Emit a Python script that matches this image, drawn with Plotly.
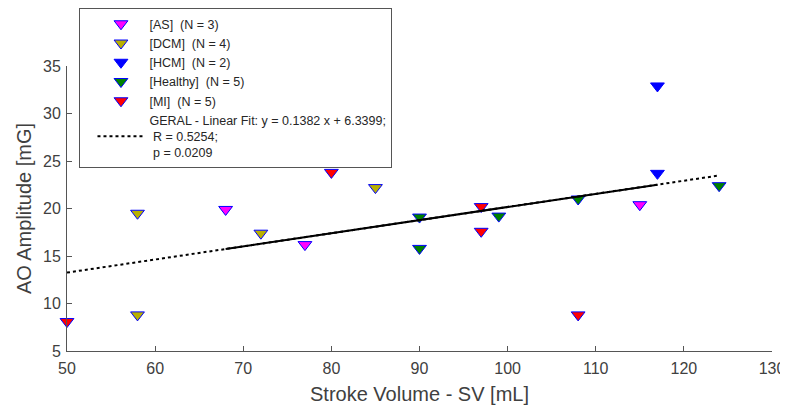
import plotly.graph_objects as go

# ---- data ----
groups = ["[AS]", "[DCM]", "[HCM]", "[Healthy]", "[MI]"]
as_x = [68, 77, 115]
as_y = [19.9, 16.2, 20.4]
dcm_x = [58, 58, 72, 85]
dcm_y = [19.5, 8.8, 17.4, 22.2]
hcm_x = [117, 117]
hcm_y = [32.9, 23.7]
healthy_x = [90, 90, 99, 108, 124]
healthy_y = [19.1, 15.8, 19.2, 21.0, 22.4]
mi_x = [50, 80, 97, 97, 108]
mi_y = [8.1, 23.8, 20.2, 17.6, 8.8]

fit_slope = 0.1382
fit_intercept = 6.3399
fit_r = 0.5254
fit_p = 0.0209
fit_dotted_x = [50, 124]
fit_solid_x = [68, 117]

x_ticks = [50, 60, 70, 80, 90, 100, 110, 120, 130]
y_ticks = [5, 10, 15, 20, 25, 30, 35]

colors = ["#ff00ff", "#b8b000", "#0000ff", "#008000", "#ff0000"]
xs = [as_x, dcm_x, hcm_x, healthy_x, mi_x]
ys = [as_y, dcm_y, hcm_y, healthy_y, mi_y]

FONT = "Liberation Sans, Arial, sans-serif"

fig = go.Figure()

for name, x, y, c in zip(groups, xs, ys, colors):
    fig.add_trace(go.Scatter(
        x=x, y=y, mode="markers",
        name=f"{name}  (N = {len(x)})",
        marker=dict(symbol="triangle-down", size=12, color=c,
                    line=dict(color="#0000ff", width=1)),
        cliponaxis=False,
    ))

fit_label = (f"GERAL - Linear Fit: y = {fit_slope} x + {fit_intercept};<br>"
             f" R = {fit_r};<br> p = {fit_p}")
fig.add_trace(go.Scatter(
    x=fit_dotted_x, y=[fit_slope * v + fit_intercept for v in fit_dotted_x],
    mode="lines", name=fit_label,
    line=dict(color="black", width=2, dash="dot"),
))
fig.add_trace(go.Scatter(
    x=fit_solid_x, y=[fit_slope * v + fit_intercept for v in fit_solid_x],
    mode="lines", showlegend=False,
    line=dict(color="black", width=2),
))

axis_common = dict(
    showgrid=False, zeroline=False, showline=True, linecolor="#555555",
    linewidth=1, ticks="inside", ticklen=5, tickcolor="#555555",
    tickfont=dict(family=FONT, size=16, color="#404040"),
    mirror=False, automargin=False,
)

# the page adds an 8px body margin, so the figure is sized/offset for it
fig.update_layout(
    width=780, height=398,
    margin=dict(l=58.5, r=15.5, t=58, b=55, autoexpand=False),
    plot_bgcolor="white", paper_bgcolor="white",
    font=dict(family=FONT),
    xaxis=dict(range=[50, 130], tickvals=x_ticks, ticklabelstandoff=3,
               title=dict(text="Stroke Volume - SV [mL]",
                          font=dict(family=FONT, size=20, color="#404040"),
                          standoff=10),
               **axis_common),
    yaxis=dict(range=[5, 35], tickvals=y_ticks, ticklabelstandoff=2,
               title=dict(text="AO Amplitude [mG]",
                          font=dict(family=FONT, size=20, color="#404040"),
                          standoff=6),
               **axis_common),
    legend=dict(
        x=0.0177, y=1.203, xanchor="left", yanchor="top",
        bordercolor="#555555", borderwidth=1, bgcolor="white",
        font=dict(family=FONT, size=12.5, color="#262626"),
        indentation=12, itemwidth=47, valign="middle",
        tracegroupgap=0,
    ),
    showlegend=True,
)

fig.write_html("out.html")
